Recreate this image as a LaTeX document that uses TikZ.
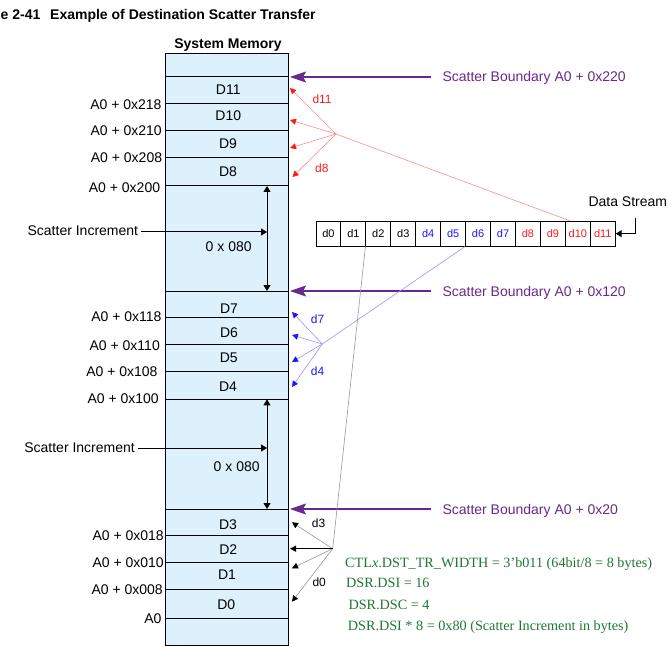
\documentclass[tikz,border=0pt]{standalone}
\usepackage{fontspec}
\setmainfont{Liberation Sans}
\newfontfamily\timesf{Liberation Serif}
\usetikzlibrary{arrows.meta}
\definecolor{memfill}{RGB}{221,241,252}
\definecolor{scpurple}{RGB}{104,40,140}
\definecolor{scgreen}{RGB}{32,118,52}
\definecolor{fanred}{RGB}{255,140,140}
\definecolor{fanblue}{RGB}{150,150,255}
\definecolor{fangray}{RGB}{150,150,150}
\definecolor{dred}{RGB}{255,25,25}
\definecolor{dblue}{RGB}{25,25,255}
\begin{document}
\begin{tikzpicture}[x=1pt,y=-1pt,
  every node/.style={inner sep=0pt,font=\fontsize{14}{16}\selectfont},
  memline/.style={line width=1pt},
  lbl/.style={anchor=base east},
  dlbl/.style={anchor=base},
  cell/.style={draw,line width=0.9pt,minimum width=24.94pt,minimum height=24.7pt,font=\fontsize{11}{13}\selectfont},
  fanlbl/.style={anchor=base west,font=\fontsize{12}{14}\selectfont},
  boundary/.style={scpurple,line width=1.2pt,-{Stealth[length=16pt,width=11pt,inset=3pt]}},
  bndtext/.style={anchor=base west,text=scpurple},
  inc/.style={line width=1pt,-{Triangle[length=6pt,width=7pt]}},
  incboth/.style={line width=1pt,{Triangle[length=6pt,width=7pt]}-{Triangle[length=6pt,width=7pt]}},
  redfan/.style={fanred,line width=0.6pt,-{Triangle[length=6pt,width=6pt,color=dred]}},
  bluefan/.style={fanblue,line width=0.6pt,-{Triangle[length=6pt,width=6pt,color=dblue]}},
  grayfan/.style={fangray,line width=0.6pt,-{Triangle[length=6pt,width=6pt,color=black]}},
  greentext/.style={anchor=base west,text=scgreen,font=\timesf\fontsize{14.2}{16}\selectfont}]
\useasboundingbox (0,0) rectangle (672,647);

% title
\node[anchor=base west,font=\bfseries\fontsize{14}{16}\selectfont] (fig) at (0.5,20) {e 2-41};
\node[anchor=base west,font=\bfseries\fontsize{14}{16}\selectfont] (title) at (50,20) {Example of Destination Scatter Transfer};
\node[anchor=base,font=\bfseries\fontsize{14}{16}\selectfont] (sysmem) at (228,48.7) {System Memory};

% memory box
\fill[memfill] (165,54) rectangle (288,645);
\draw[memline] (165,54) rectangle (288,645);
\foreach \yy in {77,103.3,130.3,157.3,186,291,317.3,344.3,371.3,399.3,509,535.3,562.3,589.3,618.3}
  \draw[memline] (165,\yy) -- (288,\yy);

% row labels
\node[dlbl] (D11) at (228.3,94.3) {D11};
\node[dlbl] (D10) at (228.3,121) {D10};
\node[dlbl] (D9) at (228,149) {D9};
\node[dlbl] (D8) at (228,176.3) {D8};
\node[dlbl] (D7) at (229,313) {D7};
\node[dlbl] (D6) at (229,337.3) {D6};
\node[dlbl] (D5) at (228.7,362.7) {D5};
\node[dlbl] (D4) at (228,391.7) {D4};
\node[dlbl] (D3) at (228,529) {D3};
\node[dlbl] (D2) at (228.3,554) {D2};
\node[dlbl] (D1) at (227,579) {D1};
\node[dlbl] (D0) at (226.3,609.3) {D0};

% address labels
\node[lbl] (a218) at (161.7,109.3) {A0 + 0x218};
\node[lbl] (a210) at (162,135.7) {A0 + 0x210};
\node[lbl] (a208) at (162.3,162.7) {A0 + 0x208};
\node[lbl] (a200) at (160.3,192.7) {A0 + 0x200};
\node[lbl] (a118) at (161.7,321.7) {A0 + 0x118};
\node[lbl] (a110) at (160,350.3) {A0 + 0x110};
\node[lbl] (a108) at (157.7,376.7) {A0 + 0x108};
\node[lbl] (a100) at (159,403.3) {A0 + 0x100};
\node[lbl] (a018) at (164,540.7) {A0 + 0x018};
\node[lbl] (a010) at (164,567.3) {A0 + 0x010};
\node[lbl] (a008) at (163,594.3) {A0 + 0x008};
\node[lbl] (a0) at (161.7,623.3) {A0};

% scatter increments
\coordinate (incT1) at (267,186);
\coordinate (incB1) at (267,291);
\coordinate (incM1) at (267,232);
\coordinate (incT2) at (267,399.3);
\coordinate (incB2) at (267,509);
\coordinate (incM2) at (267,448);
\draw[incboth] (incT1) -- (incB1);
\draw[incboth] (incT2) -- (incB2);
\node[anchor=base east] (si1) at (138.3,235.7) {Scatter Increment};
\node[anchor=base east] (si2) at (135,452.7) {Scatter Increment};
\draw[inc] ([xshift=3pt]si1.east |- incM1) -- (incM1);
\draw[inc] ([xshift=3pt]si2.east |- incM2) -- (incM2);
\node (inc1) at (228.7,246.7) {0 x 080};
\node (inc2) at (236.7,466.7) {0 x 080};

% scatter boundaries
\coordinate (bt1) at (290,77);
\coordinate (bt2) at (290,291);
\coordinate (bt3) at (290,509);
\node[bndtext] (sb1) at (442.3,81.7) {Scatter Boundary A0 + 0x220};
\node[bndtext] (sb2) at (442.3,296) {Scatter Boundary A0 + 0x120};
\node[bndtext] (sb3) at (442.3,514.3) {Scatter Boundary A0 + 0x20};
\draw[boundary] (431,77) -- (bt1);
\draw[boundary] (431,291) -- (bt2);
\draw[boundary] (431,509) -- (bt3);

% data stream
\foreach \i/\c in {0/black,1/black,2/black,3/black,4/dblue,5/dblue,6/dblue,7/dblue,8/dred,9/dred,10/dred,11/dred}
  \node[cell,text=\c] (c\i) at ({316+24.94*(\i+0.5)},233.65) {d\i};
\node[anchor=base west] (ds) at (588.3,206.7) {Data Stream};
\coordinate (dsA) at (635,218);
\draw[line width=1pt,-{Triangle[length=6pt,width=7pt]}] (dsA) |- (c11.east);

% red fan
\coordinate (R) at (336,134);
\coordinate (r11) at (290,88);
\coordinate (r10) at (290,120);
\coordinate (r9) at (290,148);
\coordinate (r8) at (292.5,177);
\draw[fanred,line width=0.6pt] (R) -- ([xshift=5pt]c10.north west);
\foreach \tgt in {r11,r10,r9,r8} \draw[redfan] (R) -- (\tgt);
\node[fanlbl,text=dred] (ld11) at (312.3,103.3) {d11};
\node[fanlbl,text=dred] (ld8) at (315,172.3) {d8};

% blue fan
\coordinate (B) at (322.3,344);
\coordinate (b7) at (292,312);
\coordinate (b6) at (292,335);
\coordinate (b5) at (292,362);
\coordinate (b4) at (292,387);
\draw[fanblue,line width=0.6pt] (B) -- (c6.south west);
\foreach \tgt in {b7,b6,b5,b4} \draw[bluefan] (B) -- (\tgt);
\node[fanlbl,text=dblue] (ld7) at (310.7,323.3) {d7};
\node[fanlbl,text=dblue] (ld4) at (310.7,375.3) {d4};

% gray fan
\coordinate (G) at (332.7,548.7);
\coordinate (g3) at (292,522.3);
\coordinate (g2) at (290,548.7);
\coordinate (g1) at (292,568.3);
\coordinate (g0) at (292,601.7);
\draw[fangray,line width=0.6pt] (G) -- (c2.south west);
\foreach \tgt in {g3,g1,g0} \draw[grayfan] (G) -- (\tgt);
\draw[line width=0.9pt,-{Triangle[length=6pt,width=6pt]}] (G) -- (g2);
\node[fanlbl] (ld3) at (311.7,527) {d3};
\node[fanlbl] (ld0) at (312.3,586.7) {d0};

% register notes
\node[greentext] (n1) at (345,567.3) {CTL\textit{x}.DST\_TR\_WIDTH = 3’b011 (64bit/8 = 8 bytes)};
\node[greentext] (n2) at (346,587.3) {DSR.DSI = 16};
\node[greentext] (n3) at (348.3,609.3) {DSR.DSC = 4};
\node[greentext] (n4) at (347.7,630.3) {DSR.DSI * 8 = 0x80 (Scatter Increment in bytes)};
\end{tikzpicture}
\end{document}
